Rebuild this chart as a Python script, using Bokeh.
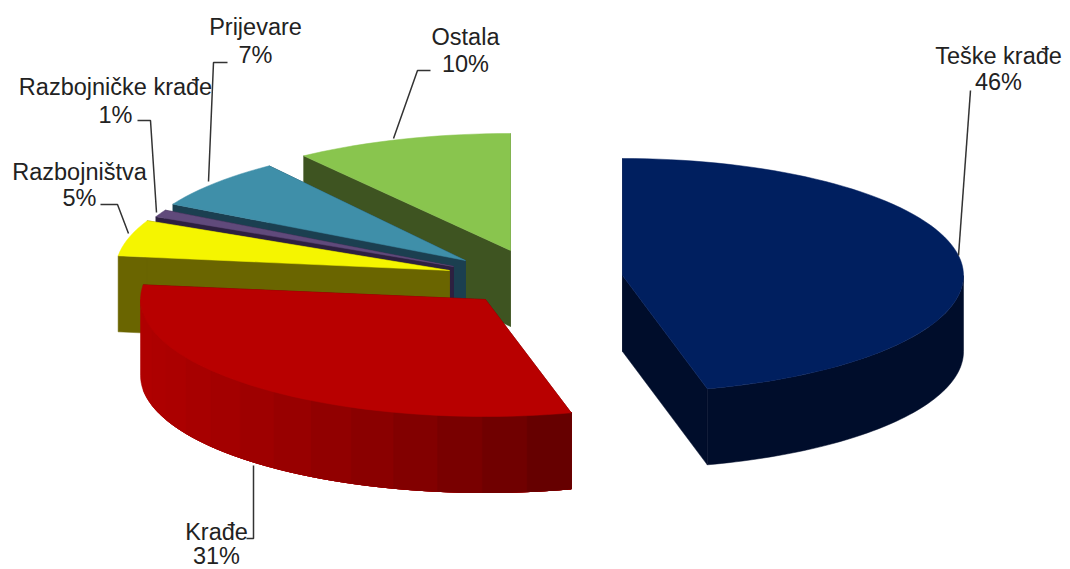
import math
from bokeh.plotting import figure
from bokeh.embed import file_html
from bokeh.resources import INLINE
from bokeh.core.properties import value

# --- chart data ---
categories = ["Teške krađe", "Krađe", "Razbojništva", "Razbojničke krađe", "Prijevare", "Ostala"]
percentages = [46, 31, 5, 1, 7, 10]

# --- styling of each slice (same order as categories) ---
top_colors = ["#001F5F", "#B80000", "#F5F500", "#604A7B", "#3F8FA9", "#89C54E"]
wall_colors = ["#000D2B", "#660000", "#6A6500", "#2D2040", "#1B3F50", "#3E5421"]
wall_light = ["#000D2B", "#B00000", "#6A6500", "#2D2040", "#1B3F50", "#3E5421"]
centers = [(622, 275), (485, 299), (449, 270), (453, 266), (465, 260), (510, 250)]
radii_x = [341, 345, 334, 329, 334, 352]
RY, DEPTH = 117, 76

label_pos = [(998, 55, 81), (216, 531, 555), (79, 171, 197), (115, 86, 114), (255, 26, 54), (465, 36, 63)]
leaders = [
    ([958, 970], [255, 90]),
    ([253, 253, 246], [465, 538, 538]),
    ([128, 117, 100], [233, 204, 204]),
    ([156, 150, 137], [212, 120, 120]),
    ([208, 213, 227], [181, 62, 62]),
    ([393, 417, 430], [138, 70, 70]),
]

p = figure(width=1070, height=569, x_range=(0, 1070), y_range=(569, 0),
           output_backend="svg", toolbar_location=None, min_border=0)
p.axis.visible = False
p.grid.visible = False
p.outline_line_color = None
p.background_fill_color = "white"


def pt(c, rx, deg):
    a = math.radians(deg)
    return c[0] + rx * math.sin(a), c[1] - RY * math.cos(a)


def hex_rgb(h):
    return tuple(int(h[i:i + 2], 16) for i in (1, 3, 5))


spans = []
acc = 0.0
total = sum(percentages)
for v in percentages:
    spans.append((acc, acc + 360.0 * v / total))
    acc = spans[-1][1]

order = [5, 4, 3, 2, 1, 0]
for i in order:
    a0, a1 = spans[i]
    c = centers[i]
    rx = radii_x[i]
    n = max(4, int((a1 - a0) / 2))
    angs = [a0 + (a1 - a0) * k / n for k in range(n + 1)]
    arc = [pt(c, rx, a) for a in angs]

    # radial walls
    for e in (arc[0], arc[-1]):
        p.patch([c[0], e[0], e[0], c[0]], [c[1], e[1], e[1] + DEPTH, c[1] + DEPTH],
                fill_color=wall_colors[i], line_color=wall_colors[i], line_width=0.5)

    # outer wall (front part only): bands painted over one another, no seams
    lo, hi = max(a0, 90), min(a1, 270)
    if hi > lo:
        light, dark = hex_rgb(wall_light[i]), hex_rgb(wall_colors[i])
        bands = 14 if light != dark else 1
        for b in range(bands):
            t = (b / max(1, bands - 1)) ** 1.8
            col = "#%02x%02x%02x" % tuple(round(light[j] + (dark[j] - light[j]) * t) for j in range(3))
            stop = hi - (hi - lo) * b / bands
            ang = [lo + (stop - lo) * k / 60 for k in range(61)]
            top = [pt(c, rx, a) for a in ang]
            xs = [q[0] for q in top] + [q[0] for q in reversed(top)]
            ys = [q[1] for q in top] + [q[1] + DEPTH for q in reversed(top)]
            p.patch(xs, ys, fill_color=col, line_color=col, line_width=0.5)

    # top face
    p.patch([c[0]] + [q[0] for q in arc], [c[1]] + [q[1] for q in arc],
            fill_color=top_colors[i], line_color=top_colors[i], line_width=0.5)

for xs, ys in leaders:
    p.line(xs, ys, line_color="#333333", line_width=1.5)

for name, pct, (x, y1, y2) in zip(categories, percentages, label_pos):
    for txt, y in ((name, y1), (f"{pct}%", y2)):
        p.text([x], [y], text=[txt], text_font=value("Liberation Sans"), text_font_size="23.5px",
               text_align="center", text_baseline="middle", text_color="#222222")

open("out.html", "w").write(file_html(p, INLINE))
